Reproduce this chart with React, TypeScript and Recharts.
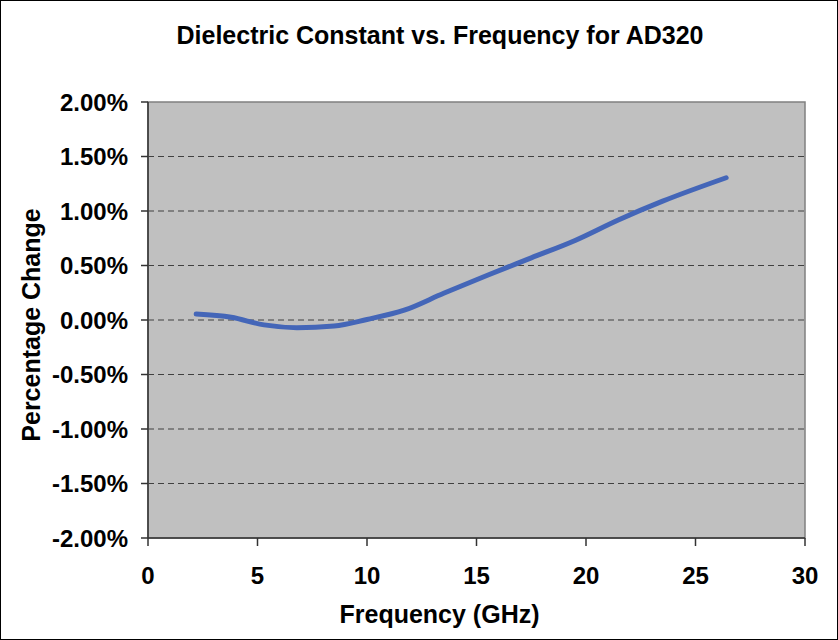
import { LineChart, Line, XAxis, YAxis, CartesianGrid, ReferenceArea, Label } from 'recharts';

// frequency in GHz, change in percent
const freqGHz = [2.2, 3.8, 5.3, 6.8, 8.5, 10, 11.7, 13.5, 15.5, 17.5, 19.5, 21.5, 23.5, 26.4];
const pctChange = [0.055, 0.025, -0.045, -0.07, -0.055, 0.005, 0.09, 0.245, 0.41, 0.57, 0.73, 0.92, 1.09, 1.305];

const xTicks = [0, 5, 10, 15, 20, 25, 30];
const yTicks = [-2, -1.5, -1, -0.5, 0, 0.5, 1, 1.5, 2];
const gridValues = [-1.5, -1, -0.5, 0, 0.5, 1, 1.5];

const chartTitle = 'Dielectric Constant vs. Frequency for AD320';
const xTitle = 'Frequency (GHz)';
const yTitle = 'Percentage Change';

const data = freqGHz.map((f, i) => ({ f, v: pctChange[i] }));

const FONT = '"Liberation Sans", Arial, sans-serif';
const tickStyle = { fontFamily: FONT, fontSize: 24, fontWeight: 700, fill: '#000' };

export default function App() {
  return (
    <div style={{ position: 'relative', width: 838, height: 640, background: '#fff', fontFamily: FONT }}>
      <style>{'body{margin:0}'}</style>
      <div
        style={{
          position: 'absolute',
          left: 0,
          top: 23,
          width: 880,
          textAlign: 'center',
          fontSize: 25,
          lineHeight: '25px',
          fontWeight: 700,
          color: '#000',
        }}
      >
        {chartTitle}
      </div>
      <LineChart width={838} height={640} data={data} margin={{ top: 102, right: 33, left: 0, bottom: 0 }}>
        <CartesianGrid
          vertical={false}
          horizontalValues={gridValues}
          stroke="#404040"
          strokeDasharray="6 4"
          fill="#C0C0C0"
          fillOpacity={1}
        />
        <ReferenceArea x1={0} x2={30} y1={-2} y2={2} fill="none" stroke="#808080" strokeWidth={1.5} ifOverflow="visible" />
        <XAxis
          type="number"
          dataKey="f"
          domain={[0, 30]}
          ticks={xTicks}
          interval={0}
          height={102}
          stroke="#333"
          strokeWidth={1.5}
          tickSize={8}
          tickMargin={21}
          tick={tickStyle}
        >
          <Label
            content={({ viewBox }: any) => (
              <text
                x={viewBox.x + viewBox.width / 2 - 37}
                y={viewBox.y + 85}
                textAnchor="middle"
                style={{ fontFamily: FONT, fontSize: 25, fontWeight: 700, fill: '#000' }}
              >
                {xTitle}
              </text>
            )}
          />
        </XAxis>
        <YAxis
          type="number"
          domain={[-2, 2]}
          ticks={yTicks}
          interval={0}
          width={148}
          stroke="#333"
          strokeWidth={1.5}
          tickSize={7}
          tickMargin={13}
          tick={tickStyle}
          tickFormatter={(v: number) => `${v.toFixed(2)}%`}
        >
          <Label
            content={({ viewBox }: any) => {
              const cx = 40;
              const cy = viewBox.y + viewBox.height / 2 + 5;
              return (
                <text
                  x={cx}
                  y={cy}
                  transform={`rotate(-90 ${cx} ${cy})`}
                  textAnchor="middle"
                  style={{ fontFamily: FONT, fontSize: 25, fontWeight: 700, fill: '#000' }}
                >
                  {yTitle}
                </text>
              );
            }}
          />
        </YAxis>
        <Line
          type="monotone"
          dataKey="v"
          stroke="#4466B8"
          strokeWidth={5}
          strokeLinecap="round"
          dot={false}
          activeDot={false}
          isAnimationActive={false}
        />
      </LineChart>
      <div
        style={{
          position: 'absolute',
          inset: 0,
          border: '1px solid #000',
          pointerEvents: 'none',
        }}
      />
    </div>
  );
}
